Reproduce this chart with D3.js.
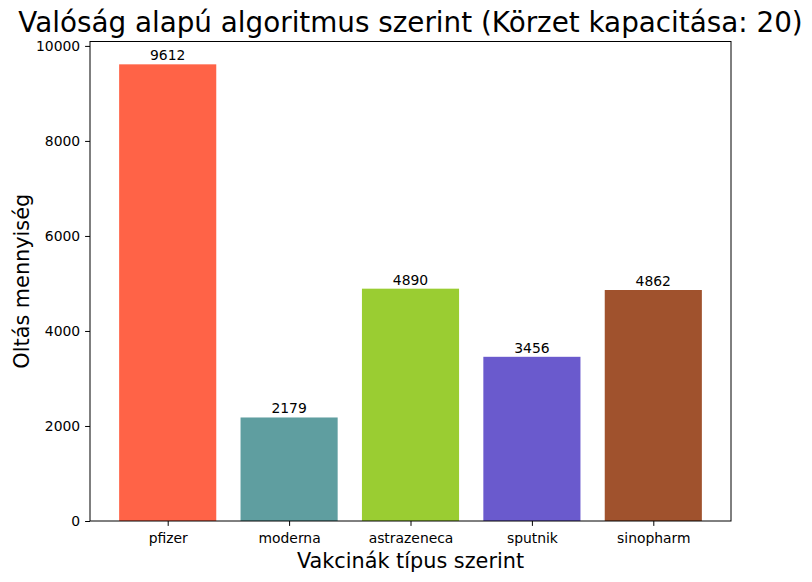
<!DOCTYPE html>
<html>
<head>
<meta charset="utf-8">
<script src="https://cdn.jsdelivr.net/npm/d3@7"></script>
<style>
  body { margin: 0; background: #fff; }
  text { font-family: 'DejaVu Sans', sans-serif; fill: #000; }
</style>
</head>
<body>
<div id="chart"></div>
<script>
// data
var vaccines = ['pfizer', 'moderna', 'astrazeneca', 'sputnik', 'sinopharm'];
var doses = [9612, 2179, 4890, 3456, 4862];
var barColors = ['#FF6347', '#5F9EA0', '#9ACD32', '#6A5ACD', '#A0522D'];
var yTicks = [0, 2000, 4000, 6000, 8000, 10000];

var width = 812, height = 582;
var margin = {top: 41.5, right: 81, bottom: 61, left: 90};
var plotW = width - margin.left - margin.right,
    plotH = height - margin.top - margin.bottom;
var tickFont = '13.9px';

var svg = d3.select('#chart').append('svg')
  .attr('width', width)
  .attr('height', height);

var g = svg.append('g')
  .attr('transform', 'translate(' + margin.left + ',' + margin.top + ')');

// matplotlib style limits: bars at 0..n-1, width 0.8, 5% margins
var n = vaccines.length;
var x = d3.scaleLinear()
  .domain([-0.4 - 0.05 * (n - 0.2), n - 0.6 + 0.05 * (n - 0.2)])
  .range([0, plotW]);
var y = d3.scaleLinear()
  .domain([0, d3.max(doses) * 1.05])
  .range([plotH, 0]);

g.selectAll('rect.bar')
  .data(doses)
  .enter().append('rect')
  .attr('class', 'bar')
  .attr('x', function (d, i) { return x(i - 0.4); })
  .attr('width', function (d, i) { return x(i + 0.4) - x(i - 0.4); })
  .attr('y', function (d) { return y(d); })
  .attr('height', function (d) { return plotH - y(d); })
  .attr('fill', function (d, i) { return barColors[i]; });

g.selectAll('text.val')
  .data(doses)
  .enter().append('text')
  .attr('class', 'val')
  .attr('x', function (d, i) { return x(i); })
  .attr('y', function (d) { return y(d) - 4; })
  .attr('text-anchor', 'middle')
  .style('font-size', tickFont)
  .text(function (d) { return d; });

// axes
var yAxis = d3.axisLeft(y).tickValues(yTicks).tickFormat(d3.format('d'))
  .tickSize(4.9).tickPadding(4.9);
var xAxis = d3.axisBottom(x).tickValues(d3.range(n))
  .tickFormat(function (i) { return vaccines[i]; })
  .tickSize(4.9).tickPadding(7);

var ya = g.append('g').call(yAxis);
var xa = g.append('g').attr('transform', 'translate(0,' + plotH + ')').call(xAxis);
[ya, xa].forEach(function (a) {
  a.select('.domain').remove();
  a.selectAll('text').style('font-size', tickFont).style('font-family', "'DejaVu Sans', sans-serif").attr('fill', '#000');
  a.selectAll('line').attr('stroke', '#000').attr('stroke-width', 1);
});

// frame
g.append('rect')
  .attr('width', plotW)
  .attr('height', plotH)
  .attr('fill', 'none')
  .attr('stroke', '#000')
  .attr('stroke-width', 1);

// labels
svg.append('text')
  .attr('x', margin.left + plotW / 2)
  .attr('y', 32)
  .attr('text-anchor', 'middle')
  .style('font-size', '27.8px')
  .text('Valóság alapú algoritmus szerint (Körzet kapacitása: 20)');

svg.append('text')
  .attr('x', margin.left + plotW / 2)
  .attr('y', 568)
  .attr('text-anchor', 'middle')
  .style('font-size', '20.8px')
  .text('Vakcinák típus szerint');

svg.append('text')
  .attr('transform', 'translate(29,' + (margin.top + plotH / 2) + ') rotate(-90)')
  .attr('text-anchor', 'middle')
  .style('font-size', '20.8px')
  .text('Oltás mennyiség');
</script>
</body>
</html>
